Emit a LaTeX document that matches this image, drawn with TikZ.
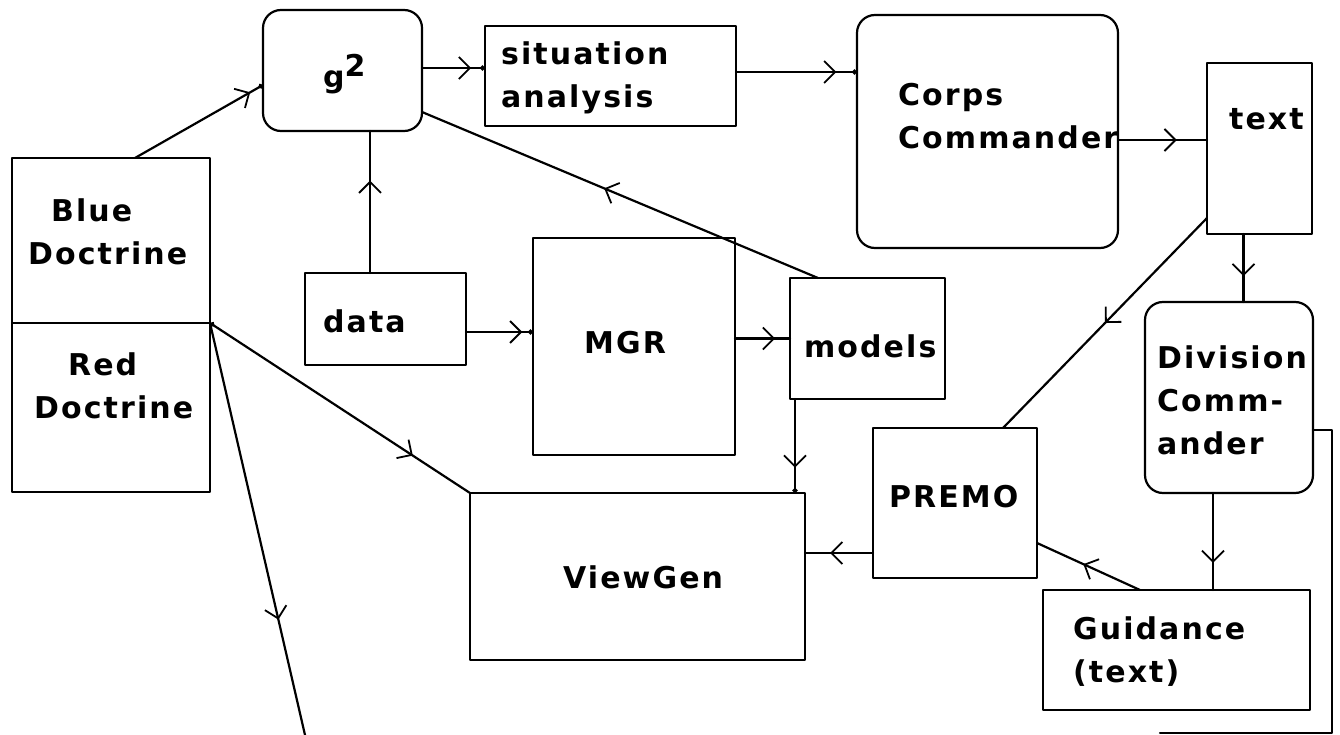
\documentclass[tikz,border=0pt]{standalone}
\usepackage{fontspec}
\newfontfamily\boxfont[LetterSpace=7]{DejaVu Sans}
\usetikzlibrary{arrows.meta,decorations.markings,calc}

\begin{document}
\begin{tikzpicture}[
x=1pt,y=-1pt,
line width=2.2pt,line join=round,line cap=round,
barb/.tip={Straight Barb[length=11pt,width=22pt,line width=1.8pt]},
box/.style={rectangle,draw,inner sep=0pt,outer sep=0pt},
rbox/.style={box,rounded corners=18pt},
lbl/.style={inner sep=0pt,align=left,font=\boxfont\bfseries\fontsize{30}{43}\selectfont},
midarrow/.style={postaction={decorate},decoration={markings,
mark=at position #1 with {\arrow{barb}}}},
midarrow/.default=0.75,
dotend/.style={-{Circle[length=5pt]}},
dotstart/.style={{Circle[length=5pt]}-}
]
\useasboundingbox (0,0) rectangle (1340,735);

% boxes
\node[rbox,minimum width=159pt,minimum height=121pt] (g2)        at (342.5,70.5)  {};
\node[box, minimum width=251pt,minimum height=100pt] (sit)       at (610.5,76)    {};
\node[rbox,minimum width=261pt,minimum height=233pt] (corps)     at (987.5,131.5) {};
\node[box, minimum width=105pt,minimum height=171pt] (ordertext) at (1259.5,148.5){};
\node[box, minimum width=198pt,minimum height=165pt] (blue)      at (111,240.5)   {};
\node[box, minimum width=198pt,minimum height=169pt] (red)       at (111,407.5)   {};
\node[box, minimum width=161pt,minimum height=92pt]  (data)      at (385.5,319)   {};
\node[box, minimum width=202pt,minimum height=217pt] (mgr)       at (634,346.5)   {};
\node[box, minimum width=155pt,minimum height=121pt] (models)    at (867.5,338.5) {};
\node[box, minimum width=164pt,minimum height=150pt] (premo)     at (955,503)     {};
\node[rbox,minimum width=168pt,minimum height=191pt] (div)       at (1229,397.5)  {};
\node[box, minimum width=335pt,minimum height=167pt] (vg)        at (637.5,576.5) {};
\node[box, minimum width=267pt,minimum height=120pt] (guid)      at (1176.5,650)  {};

% texts
\node[lbl,anchor=base west] (g2-l)        at (322,88)     {g\raisebox{11pt}{2}};
\node[lbl,anchor=west]      (sit-l)       at (500,77.8)   {situation\\analysis};
\node[lbl,anchor=west]      (corps-l)     at (897,116.5)  {Corps\\Commander};
\node[lbl,anchor=base west] (ordertext-l) at (1228,130)   {text};
\node[lbl,anchor=west]      (blue-l)      at (27,232)     {\hspace*{23pt}Blue\\Doctrine};
\node[lbl,anchor=west]      (red-l)       at (33,386)     {\hspace*{34pt}Red\\Doctrine};
\node[lbl,anchor=base west] (data-l)      at (322,332)    {data};
\node[lbl,anchor=base west] (mgr-l)       at (583,353)    {MGR};
\node[lbl,anchor=base west] (models-l)    at (803,357)    {models};
\node[lbl,anchor=base west] (premo-l)     at (888,507)    {PREMO};
\node[lbl,anchor=west]      (div-l)       at (1156,400.5) {Division\\Comm-\\ander};
\node[lbl,anchor=base west] (vg-l)        at (562,588)    {ViewGen};
\node[lbl,anchor=west]      (guid-l)      at (1072,651.5) {Guidance\\(text)};

\coordinate (doctrine out) at (305,735);
\coordinate (loop end)     at (1160,733);

% connectors
\draw[midarrow=0.9,dotend] ($(blue.north)+(24,0)$) -- ($(g2.west)+(0,14.5)$);
\draw[midarrow=0.65] ($(data.north)+(-15.5,0)$) coordinate (d0) -- (d0 |- g2.south);
\draw[midarrow=0.78,dotend] ($(g2.east)+(0,-2.5)$) -- ($(sit.west)+(0,-8)$);
\draw[midarrow=0.83,dotend] ($(sit.east)+(0,-4)$) coordinate (s0) -- (s0 -| corps.west);
\draw[midarrow=0.66] ($(corps.east)+(0,8.5)$) coordinate (c0) -- (c0 -| ordertext.west);
\draw[midarrow=0.62] ($(ordertext.south)+(-16,0)$) coordinate (t0) -- (t0 |- div.north);
\draw[midarrow=0.5] ($(ordertext.south west)+(0,-16)$) -- ($(premo.north)+(48,0)$);
\draw[midarrow=0.54] ($(models.north)+(-49.5,0)$) -- ($(g2.east)+(0,41.5)$);
\draw[midarrow=0.84,dotend] ($(data.east)+(0,13)$) coordinate (d1) -- (d1 -| mgr.west);
\draw[midarrow=0.73] (models.west -| mgr.east) -- (models.west);
\draw[midarrow=0.73,dotend] ($(models.south west)+(5,0)$) coordinate (m0) -- (m0 |- vg.north);
\draw[midarrow=0.78,dotstart] (red.north east) -- (vg.north west);
\draw[midarrow=0.72] (red.north east) -- (doctrine out);
\draw[midarrow=0.63] ($(premo.west)+(0,50)$) coordinate (p0) -- (p0 -| vg.east);
\draw[midarrow=0.55] ($(guid.north)+(-36.5,0)$) -- ($(premo.east)+(0,40)$);
\draw[midarrow=0.72] ($(div.south)+(-16,0)$) coordinate (v0) -- (v0 |- guid.north);
\draw ($(div.east)+(0,32.5)$) -- ++(19,0) |- (loop end);
\end{tikzpicture}
\end{document}
